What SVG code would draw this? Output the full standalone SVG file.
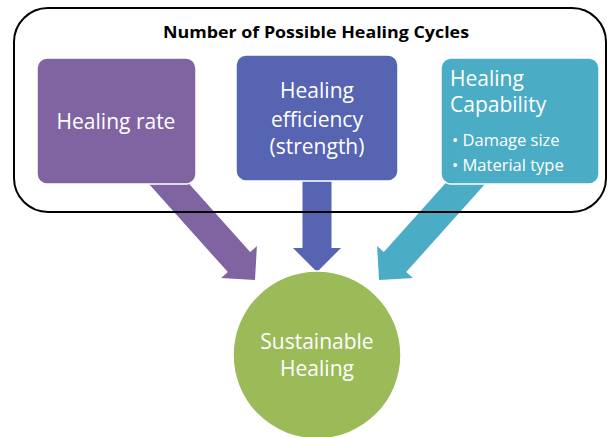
<svg xmlns="http://www.w3.org/2000/svg" width="610" height="437" viewBox="0 0 610 437">
<style>
.lbl{font-family:"Open Sans","Liberation Sans",sans-serif;fill:#fff;font-size:21px}
.sm{font-size:16.5px}
.title{font-family:"Open Sans","Liberation Sans",sans-serif;font-weight:bold;font-size:16.5px;fill:#000}
.box{stroke:#fff;stroke-width:1.5}
</style>
<defs>
<polygon id="arr150" points="0,0 -24,-24 -15,-24 -15,-150 15,-150 15,-24 24,-24"/>
<polygon id="arr95" points="0,0 -24,-24 -14.5,-24 -14.5,-95 14.5,-95 14.5,-24 24,-24"/>
</defs>
<rect width="610" height="437" fill="#fff"/>
<g id="connectors">
<use href="#arr150" transform="translate(255,280) rotate(-41.8)" fill="#8064A2"/>
<use href="#arr95" transform="translate(317,272)" fill="#5664B2"/>
<use href="#arr150" transform="translate(379,280) rotate(41.8)" fill="#4BACC6"/>
</g>
<g id="group-box">
<rect x="14" y="8" width="592" height="204" rx="34" fill="none" stroke="#000" stroke-width="2"/>
<text class="title" x="316" y="38" text-anchor="middle" textLength="306" lengthAdjust="spacingAndGlyphs">Number of Possible Healing Cycles</text>
</g>
<g id="healing-rate">
<rect class="box" x="37" y="58" width="159" height="126" rx="10" fill="#8064A2"/>
<text class="lbl" x="116" y="129" text-anchor="middle">Healing rate</text>
</g>
<g id="healing-efficiency">
<rect class="box" x="236" y="55" width="162" height="126" rx="10" fill="#5664B2"/>
<text class="lbl" x="317" y="98" text-anchor="middle">Healing</text>
<text class="lbl" x="317" y="127" text-anchor="middle">efficiency</text>
<text class="lbl" x="317" y="154" text-anchor="middle">(strength)</text>
</g>
<g id="healing-capability">
<rect class="box" x="441" y="58" width="158" height="126" rx="10" fill="#4BACC6"/>
<text class="lbl" x="450" y="86">Healing</text>
<text class="lbl" x="450" y="112">Capability</text>
<text class="lbl sm" x="452" y="146">• Damage size</text>
<text class="lbl sm" x="452" y="171">• Material type</text>
</g>
<g id="sustainable-healing">
<circle cx="317" cy="355" r="84" fill="#9BBB59" stroke="#fff" stroke-width="1.5"/>
<text class="lbl" x="317" y="349" text-anchor="middle">Sustainable</text>
<text class="lbl" x="317" y="376" text-anchor="middle">Healing</text>
</g>
</svg>
